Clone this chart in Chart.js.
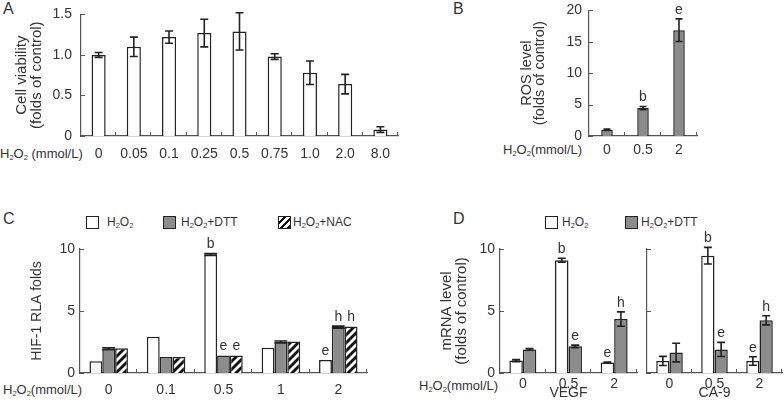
<!DOCTYPE html>
<html>
<head>
<meta charset="utf-8">
<script src="https://cdn.jsdelivr.net/npm/chart.js@4/dist/chart.umd.min.js"></script>
<style>
  body { margin: 0; width: 784px; height: 403px; background: #fff; position: relative; overflow: hidden;
         font-family: "Liberation Sans", Arial, sans-serif; color: #333; }
  canvas { position: absolute; }
  .t { position: absolute; font-size: 13px; line-height: 16px; white-space: nowrap; }
  .lg { position: absolute; font-size: 12px; line-height: 14px; white-space: nowrap; }
  .t sub, .lg sub { font-size: 7.5px; vertical-align: -2px; line-height: 0; }
  .p { position: absolute; font-size: 16px; line-height: 16px; }
  .box { position: absolute; width: 13px; height: 13px; border: 1.5px solid #222; box-sizing: border-box; }
</style>
</head>
<body>
<div class="p" style="left:3px;top:1px">A</div>
<div class="p" style="left:453px;top:1px">B</div>
<div class="p" style="left:3px;top:211px">C</div>
<div class="p" style="left:453px;top:211px">D</div>

<div class="t" style="left:0px;top:146px">H<sub>2</sub>O<sub>2</sub> (mmol/L)</div>
<div class="t" style="left:503px;top:142px">H<sub>2</sub>O<sub>2</sub>(mmol/L)</div>
<div class="t" style="left:3px;top:382px">H<sub>2</sub>O<sub>2</sub>(mmol/L)</div>
<div class="t" style="left:419px;top:378px">H<sub>2</sub>O<sub>2</sub>(mmol/L)</div>

<!-- legend C -->
<div class="box" style="left:86px;top:216px;background:#fff"></div>
<div class="lg" style="left:107px;top:215px">H<sub>2</sub>O<sub>2</sub></div>
<div class="box" style="left:163px;top:216px;background:#8c8c8c"></div>
<div class="lg" style="left:181px;top:215px">H<sub>2</sub>O<sub>2</sub>+DTT</div>
<div class="box" style="left:278px;top:216px;background:repeating-linear-gradient(-45deg,#111 0 2.5px,#fff 2.5px 5px)"></div>
<div class="lg" style="left:293px;top:215px">H<sub>2</sub>O<sub>2</sub>+NAC</div>

<!-- legend D -->
<div class="box" style="left:545px;top:216px;background:#fff"></div>
<div class="lg" style="left:562px;top:215px">H<sub>2</sub>O<sub>2</sub></div>
<div class="box" style="left:625px;top:216px;background:#8c8c8c"></div>
<div class="lg" style="left:641px;top:215px">H<sub>2</sub>O<sub>2</sub>+DTT</div>

<canvas id="chartA" width="400" height="169" style="left:0px;top:-3px"></canvas>
<canvas id="chartB" width="250" height="171" style="left:450px;top:-5px"></canvas>
<canvas id="chartC" width="400" height="174" style="left:0px;top:229px"></canvas>
<canvas id="chartD1" width="210" height="174" style="left:430px;top:229px"></canvas>
<canvas id="chartD2" width="144" height="174" style="left:640px;top:229px"></canvas>

<script>
// A: cell viability
const doseA = ['0', '0.05', '0.1', '0.25', '0.5', '0.75', '1.0', '2.0', '8.0'];
const viability = [1.0, 1.1, 1.22, 1.27, 1.29, 0.98, 0.78, 0.64, 0.08];
const viabilityErr = [0.03, 0.12, 0.075, 0.17, 0.23, 0.035, 0.145, 0.12, 0.035];
const yTicksA = [0, 0.5, 1.0, 1.5];
const yTextA = ['0', '0.5', '1.0', '1.5'];

// B: ROS level
const doseB = ['0', '0.5', '2'];
const ros = [1.0, 4.45, 16.85];
const rosErr = [0.1, 0.25, 1.8];
const rosMarks = ['', 'b', 'e'];
const yTicksB = [0, 5, 10, 15, 20];

// C: HIF-1 RLA
const doseC = ['0', '0.1', '0.5', '1', '2'];
const hifH2O2 = [0.95, 2.93, 9.55, 2.03, 1.05];
const hifH2O2Err = [0, 0, 0.08, 0, 0];
const hifH2O2Marks = ['', '', 'b', '', 'e'];
const hifDTT = [1.95, 1.3, 1.42, 2.5, 3.7];
const hifDTTErr = [0.08, 0, 0, 0.08, 0.08];
const hifDTTMarks = ['', '', 'e', '', 'h'];
const hifNAC = [2.0, 1.3, 1.42, 2.55, 3.76];
const hifNACMarks = ['', '', 'e', '', 'h'];
const yTicksC = [0, 5, 10];

// D: mRNA level
const doseD = ['0', '0.5', '2'];
const genes = ['VEGF', 'CA-9'];
const vegfH2O2 = [1.0, 9.1, 0.85];
const vegfH2O2Err = [0.08, 0.16, 0.03];
const vegfDTT = [1.9, 2.15, 4.35];
const vegfDTTErr = [0.07, 0.1, 0.58];
const ca9H2O2 = [0.97, 9.46, 0.97];
const ca9H2O2Err = [0.37, 0.67, 0.34];
const ca9DTT = [1.65, 1.9, 4.25];
const ca9DTTErr = [0.75, 0.57, 0.37];
const marksH2O2D = ['', 'b', 'e'];
const marksDTTD = ['', 'e', 'h'];
const yTicksD = [0, 5, 10];

const FONT = '"Liberation Sans", Arial, sans-serif';
Chart.defaults.font.family = FONT;
Chart.defaults.color = '#333';

const GRAY = '#8c8c8c';

function hatch() {
  const c = document.createElement('canvas');
  c.width = c.height = 8;
  const g = c.getContext('2d');
  g.fillStyle = '#111';
  g.fillRect(0, 0, 8, 8);
  g.strokeStyle = '#fff';
  g.lineWidth = 2.8;
  g.beginPath();
  g.moveTo(-4, 4); g.lineTo(4, -4);
  g.moveTo(-2, 10); g.lineTo(10, -2);
  g.moveTo(4, 12); g.lineTo(12, 4);
  g.stroke();
  return g.createPattern(c, 'repeat');
}

// inward tick marks, error bars, significance letters, gene name under middle group
const marks = {
  id: 'marks',
  afterDatasetsDraw(chart) {
    const ctx = chart.ctx, x = chart.scales.x, y = chart.scales.y, a = chart.chartArea;
    const o = chart.options.plugins.marks || {};
    const n = chart.data.labels.length;
    ctx.save();
    ctx.strokeStyle = '#555';
    ctx.lineWidth = 1;
    ctx.beginPath();
    for (let i = 1; i <= n; i++) {
      const px = Math.round(a.left + (a.right - a.left) * i / n) - 0.5;
      ctx.moveTo(px, a.bottom);
      ctx.lineTo(px, a.bottom - 4);
    }
    y.ticks.forEach(t => {
      const py = Math.round(y.getPixelForValue(t.value)) + 0.5;
      ctx.moveTo(a.left, py);
      ctx.lineTo(a.left + 4, py);
    });
    ctx.stroke();

    ctx.strokeStyle = '#222';
    ctx.fillStyle = '#333';
    ctx.font = '14px ' + FONT;
    ctx.textAlign = 'center';
    ctx.textBaseline = 'bottom';
    chart.data.datasets.forEach((ds, di) => {
      chart.getDatasetMeta(di).data.forEach((bar, i) => {
        const v = ds.data[i];
        const e = ds.errors ? ds.errors[i] : 0;
        const top = y.getPixelForValue(v + e);
        if (e) {
          const bot = y.getPixelForValue(v - e);
          const cw = Math.min(bar.width * (o.cap || 0.6), o.capMax || 8) / 2;
          ctx.lineWidth = 1.6;
          ctx.beginPath();
          ctx.moveTo(bar.x, top); ctx.lineTo(bar.x, bot);
          ctx.moveTo(bar.x - cw, top); ctx.lineTo(bar.x + cw, top);
          ctx.moveTo(bar.x - cw, bot); ctx.lineTo(bar.x + cw, bot);
          ctx.stroke();
        }
        const m = ds.marks && ds.marks[i];
        if (m) ctx.fillText(m, bar.x, top - 2);
      });
    });
    if (o.gene) {
      ctx.textBaseline = 'middle';
      ctx.fillText(o.gene, x.getPixelForValue(1), a.bottom + 20);
    }
    ctx.restore();
  }
};

function barChart(id, labels, datasets, o) {
  const yTitle = o.yTitle ? {
    display: true, text: o.yTitle, color: '#333',
    font: { size: o.titleSize, lineHeight: o.titleLine },
    padding: { top: o.titlePad, bottom: 0 }
  } : { display: false };
  return new Chart(document.getElementById(id), {
    type: 'bar',
    data: { labels, datasets },
    plugins: [marks],
    options: {
      animation: false,
      responsive: false,
      layout: { padding: { top: o.padTop || 10, right: o.padRight, left: 0, bottom: 0 } },
      datasets: { bar: { barPercentage: o.barPct, categoryPercentage: o.catPct,
                         borderColor: '#222', borderWidth: 1.5 } },
      plugins: { legend: { display: false }, tooltip: { enabled: false },
                 marks: { cap: o.cap || 0.6, capMax: o.capMax || 8, gene: o.gene } },
      scales: {
        x: {
          grid: { display: false, drawTicks: false },
          border: { color: '#555', width: 1.2 },
          ticks: { padding: o.xPad, font: { size: 14 }, maxRotation: 0, autoSkip: false },
          afterFit: s => { s.height = 30; }
        },
        y: {
          min: 0, max: o.yTicks[o.yTicks.length - 1],
          grid: { display: false, drawTicks: false },
          border: { color: '#555', width: 1.2 },
          ticks: { display: !!o.yText, padding: o.yPad, font: { size: 14 },
                   callback: (v, i) => o.yText ? o.yText[i] : '' },
          afterBuildTicks: s => { s.ticks = o.yTicks.map(v => ({ value: v })); },
          title: yTitle,
          afterFit: s => { s.width = o.yWidth; }
        }
      }
    }
  });
}

barChart('chartA', doseA, [
  { data: viability, errors: viabilityErr, backgroundColor: '#fff' }
], { padRight: 2, barPct: 0.4, catPct: 1, xPad: 9.5, yTicks: yTicksA, yText: yTextA, yPad: 9,
     yWidth: 81, yTitle: ['Cell viability', '(folds of control)'], titleSize: 15, titleLine: 1.0, titlePad: 14.5 });

barChart('chartB', doseB, [
  { data: ros, errors: rosErr, marks: rosMarks, backgroundColor: GRAY }
], { padRight: 3, barPct: 0.32, catPct: 1, xPad: 5.6, yTicks: yTicksB, yText: yTicksB.map(String), yPad: 7,
     yWidth: 139, yTitle: ['ROS level', '(folds of control)'], titleSize: 14.5, titleLine: 0.9, titlePad: 70.5 });

barChart('chartC', doseC, [
  { data: hifH2O2, errors: hifH2O2Err, marks: hifH2O2Marks, backgroundColor: '#fff' },
  { data: hifDTT, errors: hifDTTErr, marks: hifDTTMarks, backgroundColor: GRAY },
  { data: hifNAC, marks: hifNACMarks, backgroundColor: hatch() }
], { padTop: 20, padRight: 33, barPct: 1, catPct: 0.67, xPad: 8.6, yTicks: yTicksC, yText: yTicksC.map(String), yPad: 5,
     yWidth: 80, yTitle: ['HIF-1 RLA folds'], titleSize: 14, titleLine: 1.0, titlePad: 30, cap: 1, capMax: 13 });

barChart('chartD1', doseD, [
  { data: vegfH2O2, errors: vegfH2O2Err, marks: marksH2O2D, backgroundColor: '#fff' },
  { data: vegfDTT, errors: vegfDTTErr, marks: marksDTTD, backgroundColor: GRAY }
], { padTop: 20, padRight: 3, barPct: 1, catPct: 0.59, xPad: 3, yTicks: yTicksD, yText: yTicksD.map(String), yPad: 5,
     yWidth: 70, yTitle: ['mRNA level', '(folds of control)'], titleSize: 15, titleLine: 1.0, titlePad: 9.5, gene: genes[0] });

barChart('chartD2', doseD, [
  { data: ca9H2O2, errors: ca9H2O2Err, marks: marksH2O2D, backgroundColor: '#fff' },
  { data: ca9DTT, errors: ca9DTTErr, marks: marksDTTD, backgroundColor: GRAY }
], { padTop: 20, padRight: 2, barPct: 1, catPct: 0.59, xPad: 3, yTicks: yTicksD, yText: null, yPad: 5,
     yWidth: 7, gene: genes[1] });
</script>
</body>
</html>
